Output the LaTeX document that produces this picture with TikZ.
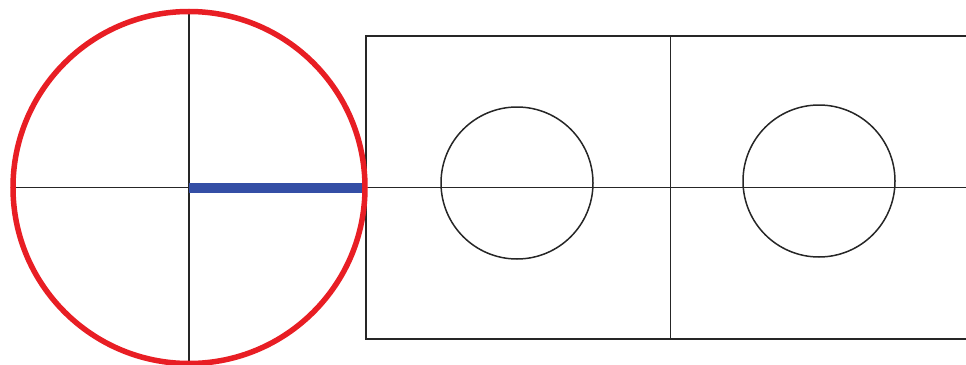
\documentclass[tikz,border=0pt]{standalone}
\begin{document}
\begin{tikzpicture}[x=1pt,y=-1pt,
  thinline/.style={draw=black!85,line width=1.5pt},
  redcirc/.style={draw={rgb,255:red,232;green,30;blue,36},line width=5.5pt},
  blueline/.style={draw={rgb,255:red,52;green,78;blue,165},line width=10pt}]
\useasboundingbox (0,0) rectangle (966,364);
\clip (0,0) rectangle (966,364);
\coordinate (O) at (189,187.5);
\coordinate (R) at (365,187.5);
% frames
\draw[thinline] (366,36) rectangle (975,339);
\draw[thinline] (670.5,36) -- (670.5,339);
% axes
\draw[thinline] (12,187.5) -- (975,187.5);
\draw[thinline] (189,11) -- (189,370);
% small circles
\draw[thinline] (517,183) circle[radius=76];
\draw[thinline] (819,181) circle[radius=76];
% blue radius
\draw[blueline] (O) -- (R);
% red circle
\draw[redcirc] (O) circle[radius=176];
\end{tikzpicture}
\end{document}
